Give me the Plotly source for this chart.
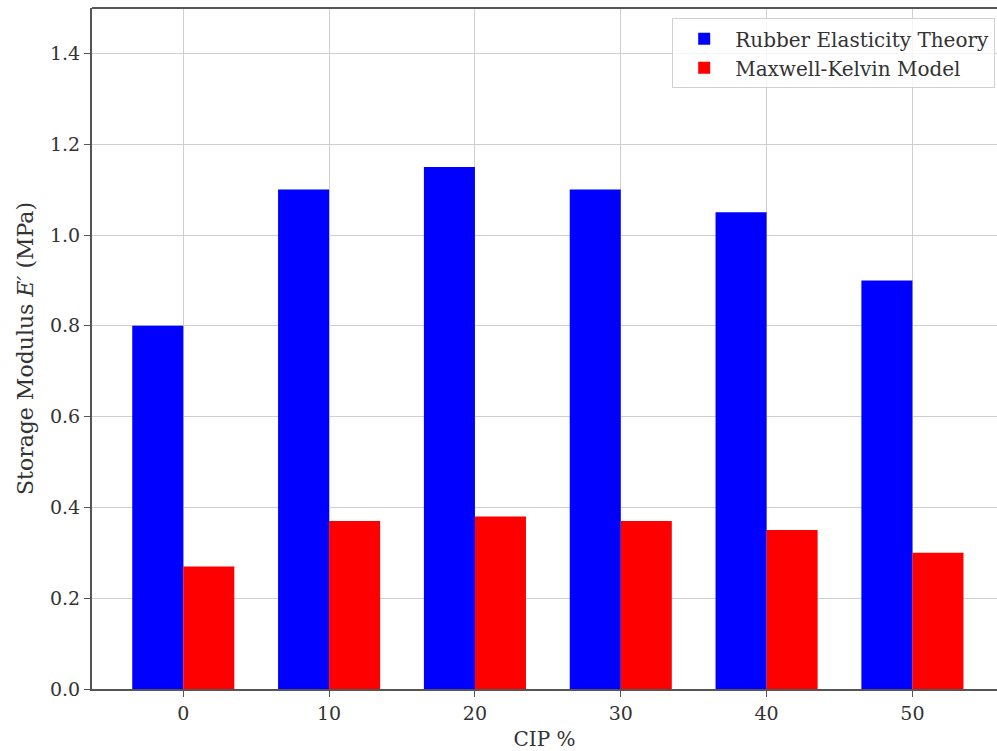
import plotly.graph_objects as go

categories = ["0", "10", "20", "30", "40", "50"]
rubber_elasticity = [0.80, 1.10, 1.15, 1.10, 1.05, 0.90]
maxwell_kelvin = [0.27, 0.37, 0.38, 0.37, 0.35, 0.30]
y_ticks = [0, 0.2, 0.4, 0.6, 0.8, 1.0, 1.2, 1.4]
y_tick_labels = ["0.0", "0.2", "0.4", "0.6", "0.8", "1.0", "1.2", "1.4"]

idx = list(range(len(categories)))
W = 0.35
FONT = "DejaVu Serif"
TXT = "#333333"
AX = "#555555"
GRID = "#cfcfcf"

fig = go.Figure()
fig.add_trace(go.Bar(x=idx, y=rubber_elasticity, width=W, offset=-W,
                     name="Rubber Elasticity Theory",
                     marker=dict(color="#0000ff", line=dict(width=0))))
fig.add_trace(go.Bar(x=idx, y=maxwell_kelvin, width=W, offset=0,
                     name="Maxwell-Kelvin Model",
                     marker=dict(color="#ff0000", line=dict(width=0))))

fig.update_layout(
    width=997, height=751,
    barmode="overlay",
    plot_bgcolor="white", paper_bgcolor="white",
    margin=dict(l=92, r=0, t=8, b=62),
    font=dict(family=FONT, size=19, color=TXT),
    showlegend=True,
    legend=dict(x=0.998, y=0.985, xanchor="right", yanchor="top",
                bgcolor="rgba(255,255,255,0.8)", bordercolor="#d0d0d0",
                borderwidth=1, font=dict(family=FONT, size=20, color=TXT),
                itemwidth=52),
    xaxis=dict(range=[-0.626, 5.58], tickvals=idx, ticktext=categories,
               showgrid=True, gridcolor=GRID, gridwidth=1,
               showline=True, linecolor=AX, linewidth=2,
               ticks="outside", ticklen=6, tickcolor=AX,
               zeroline=False,
               title=dict(text="CIP %", font=dict(family=FONT, size=20), standoff=10),
               tickfont=dict(family=FONT, size=19)),
    yaxis=dict(range=[0, 1.5], tickvals=y_ticks, ticktext=y_tick_labels,
               showgrid=True, gridcolor=GRID, gridwidth=1,
               showline=True, linecolor=AX, linewidth=2,
               ticks="outside", ticklen=6, tickcolor=AX,
               zeroline=False,
               title=dict(text="Storage Modulus <i>E′</i> (MPa)", font=dict(family=FONT, size=22), standoff=10),
               tickfont=dict(family=FONT, size=19)),
)
# top spine
fig.add_shape(type="line", xref="paper", yref="paper", x0=0, x1=1, y0=1, y1=1,
              line=dict(color=AX, width=2))

fig.write_html("out.html", config={"displayModeBar": False},
               post_script="document.body.style.margin='0px';")
